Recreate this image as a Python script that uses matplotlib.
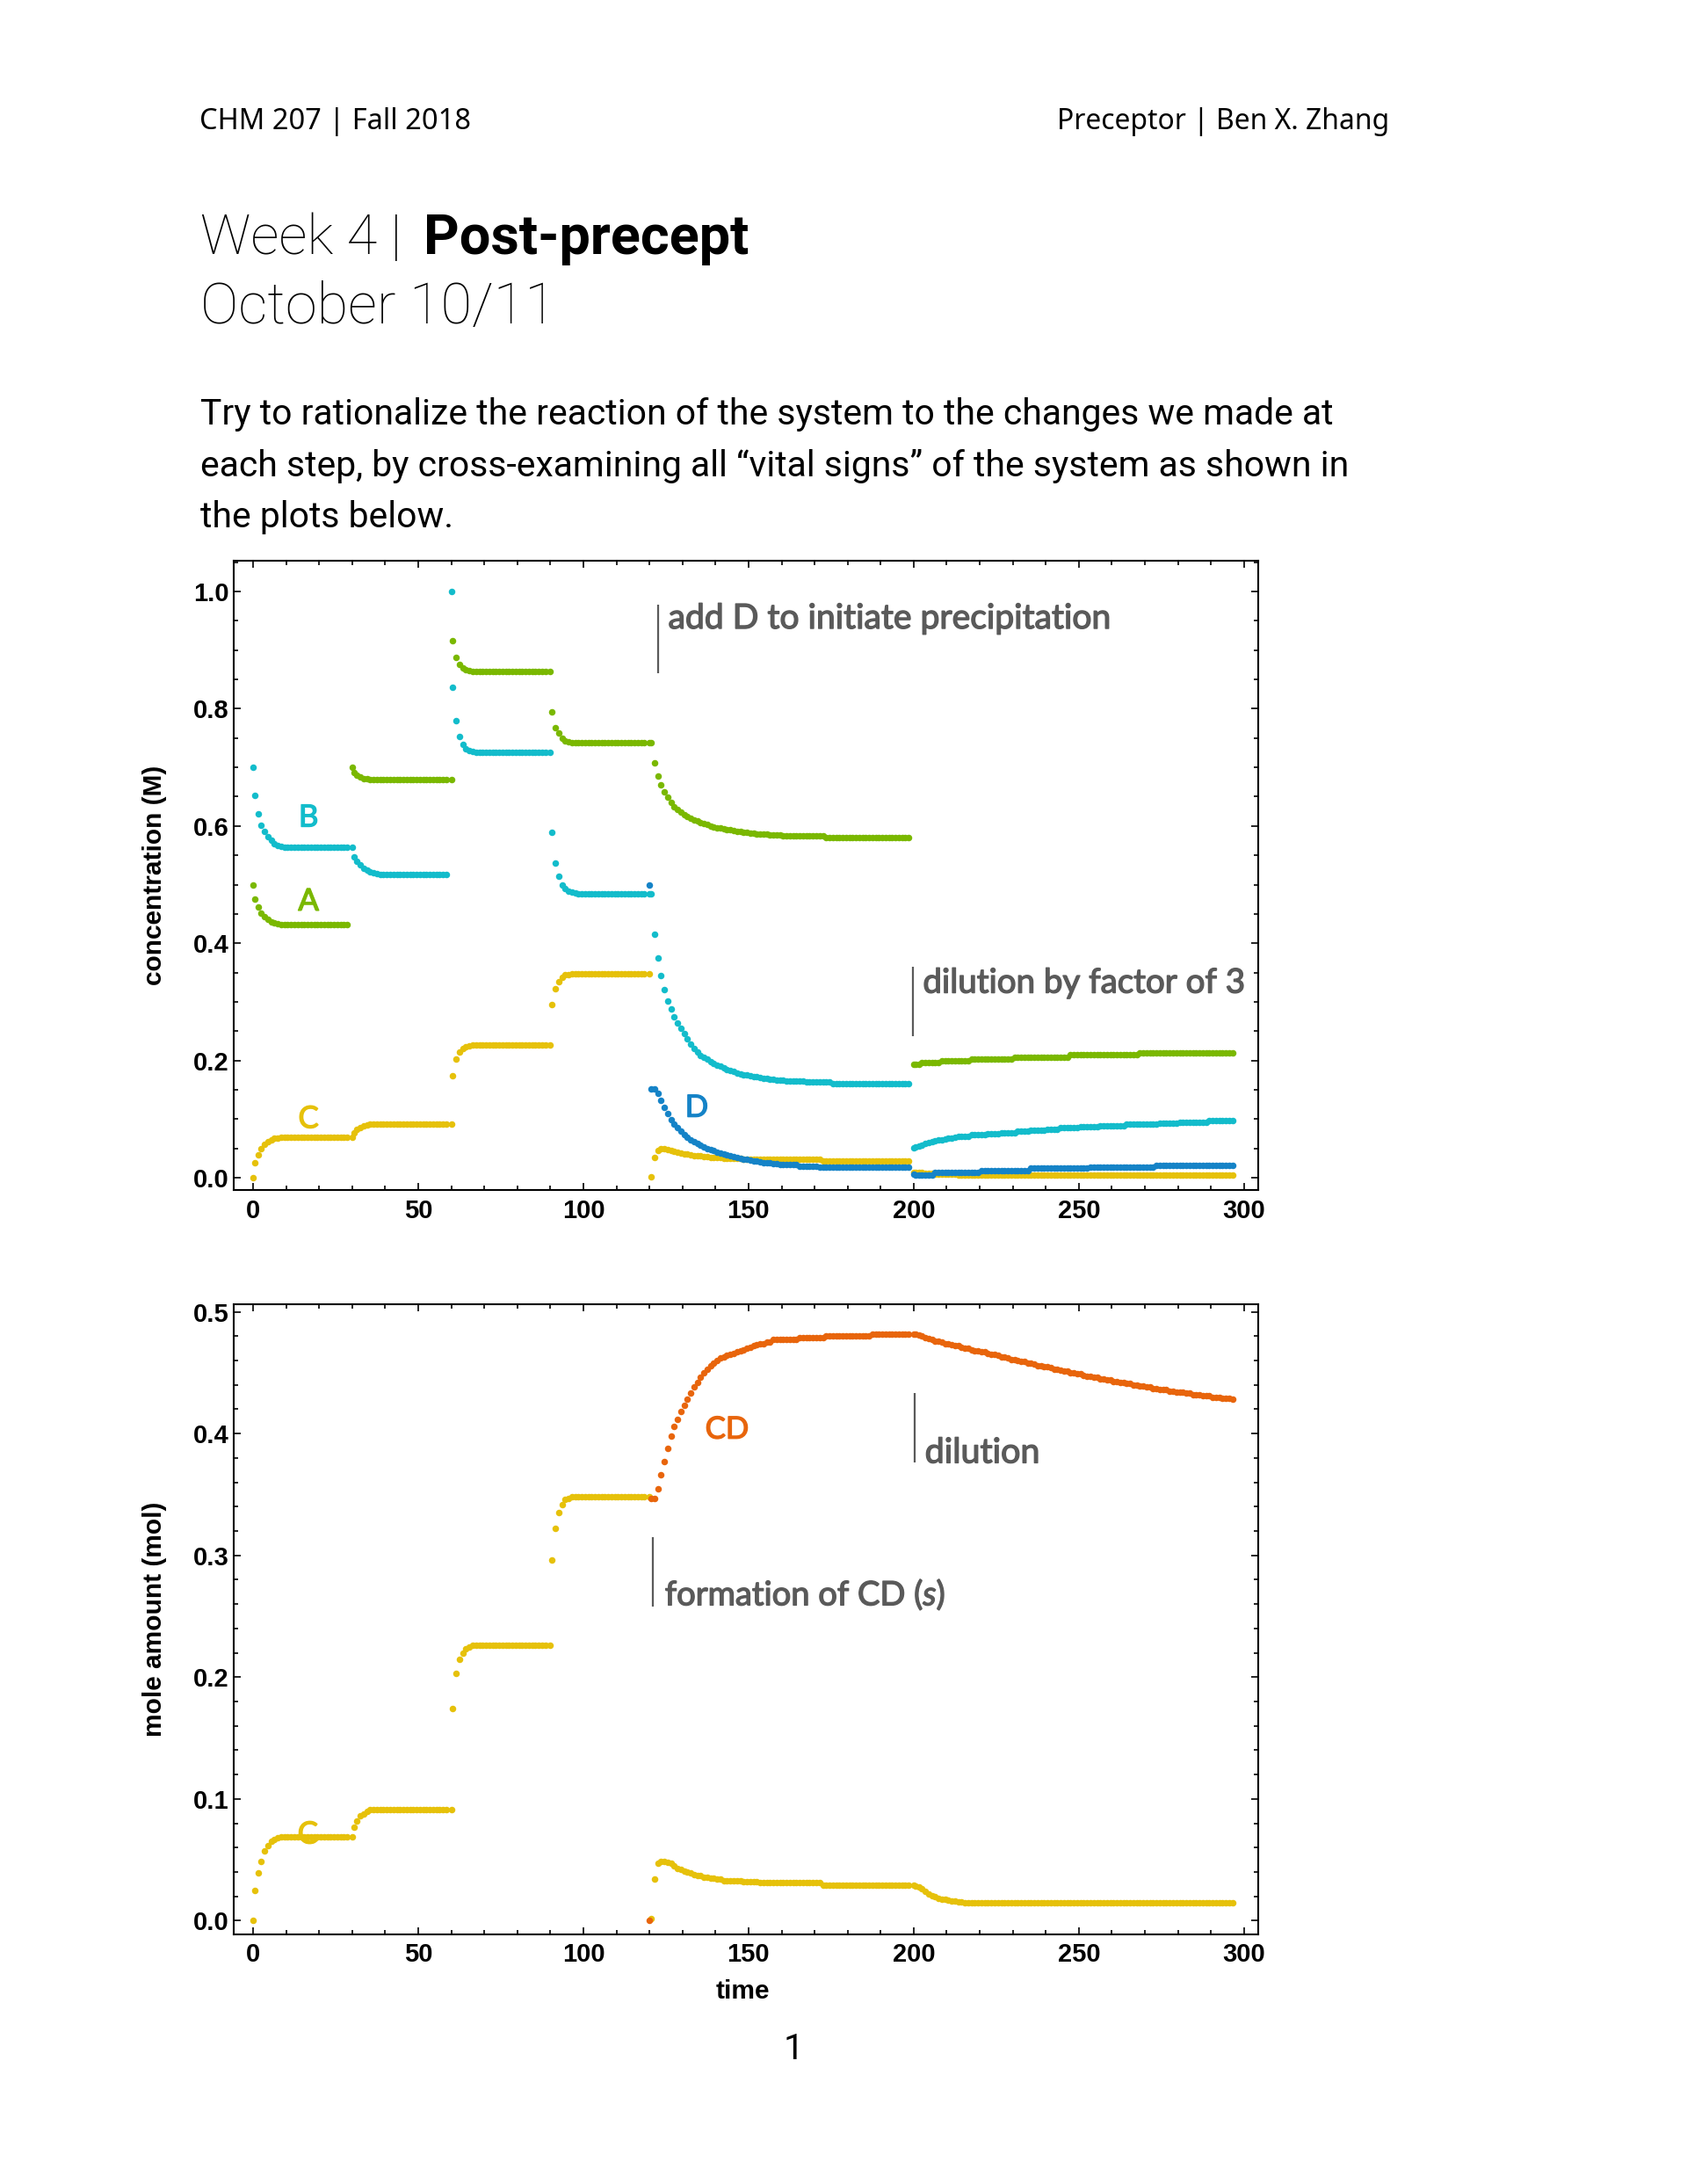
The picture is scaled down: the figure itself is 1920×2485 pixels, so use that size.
import numpy as np
import matplotlib.pyplot as plt
import matplotlib.patheffects as pe
from matplotlib.ticker import MultipleLocator, FormatStrFormatter

# colours of the species
GREEN = '#7ab800'
CYAN = '#13bccb'
YELLOW = '#e6c10a'
BLUE = '#1583c7'
ORANGE = '#e8650c'
GRAY = '#5a5a5a'

# concentrations (M), one list per 30-unit step; first point of a step is the
# state right after the change, the rest are sampled half a unit later
A1 = [0.500, 0.475, 0.462, 0.452, 0.446, 0.441, 0.437, 0.435, 0.433] + [0.432] * 21
B1 = [0.700, 0.652, 0.620, 0.601, 0.590, 0.581, 0.575, 0.570, 0.567, 0.565] + [0.563] * 20
C1 = [0.000, 0.025, 0.039, 0.049, 0.057, 0.062, 0.065, 0.067, 0.068] + [0.069] * 21

A2 = [0.700, 0.691, 0.686, 0.683, 0.681, 0.680] + [0.679] * 24
B2 = [0.563, 0.547, 0.540, 0.533, 0.528, 0.524, 0.522, 0.520, 0.518] + [0.517] * 21
C2 = [0.069, 0.077, 0.082, 0.086, 0.088, 0.090] + [0.091] * 24

A3 = [0.679, 0.916, 0.887, 0.875, 0.870, 0.867, 0.865] + [0.864] * 23
B3 = [1.000, 0.837, 0.779, 0.752, 0.739, 0.732, 0.729, 0.727, 0.726] + [0.725] * 21
C3 = [0.091, 0.174, 0.203, 0.215, 0.220, 0.223, 0.225] + [0.226] * 23

A4 = [0.864, 0.794, 0.768, 0.758, 0.750, 0.745, 0.743] + [0.742] * 23
B4 = [0.725, 0.589, 0.536, 0.514, 0.500, 0.493, 0.489, 0.487, 0.486] + [0.485] * 21
C4 = [0.226, 0.296, 0.322, 0.335, 0.342, 0.346, 0.347] + [0.348] * 23

# t = 120: D added
A5 = ([0.742, 0.742,
       0.708, 0.685, 0.670, 0.658, 0.649, 0.640, 0.633, 0.628, 0.623, 0.619,
       0.616, 0.613, 0.610, 0.608, 0.606, 0.604, 0.602, 0.600, 0.598, 0.597,
       0.596, 0.595, 0.594, 0.593, 0.592, 0.591, 0.590, 0.589, 0.589, 0.588, 0.587]
      + [0.586] * 4 + [0.585] * 4 + [0.583] * 13 + [0.580] * 26)
B5 = ([0.485, 0.485,
       0.415, 0.375, 0.345, 0.321, 0.302, 0.288, 0.275, 0.264, 0.255, 0.246,
       0.237, 0.228, 0.220, 0.214, 0.209, 0.205, 0.202, 0.198, 0.195, 0.192,
       0.190, 0.187, 0.185, 0.183, 0.181, 0.179, 0.177, 0.176, 0.175, 0.174,
       0.173, 0.172, 0.171, 0.170, 0.169, 0.168, 0.168, 0.167, 0.167, 0.166]
      + [0.165] * 6 + [0.163] * 8 + [0.160] * 24)
C5 = ([0.348, 0.002,
       0.034, 0.047, 0.049, 0.049, 0.048, 0.047, 0.045, 0.043, 0.042, 0.041,
       0.040, 0.039, 0.038, 0.037, 0.037, 0.036, 0.036, 0.035, 0.035, 0.034, 0.034]
      + [0.033] * 6 + [0.032] * 5 + [0.031] * 19 + [0.029] * 27)
D5 = ([0.500,
       0.152, 0.151, 0.144, 0.132, 0.120, 0.109, 0.099, 0.091, 0.085, 0.079,
       0.074, 0.069, 0.065, 0.061, 0.058, 0.055, 0.052, 0.050, 0.048, 0.046,
       0.044, 0.042, 0.040, 0.039, 0.037, 0.036, 0.035, 0.033, 0.032, 0.031,
       0.030, 0.029, 0.028, 0.027, 0.026, 0.025, 0.025, 0.024, 0.024, 0.023]
      + [0.022] * 5 + [0.020] * 6 + [0.0185] * 28)

# t = 200: dilution by 3
A6 = [0.193] * 3 + [0.196] * 6 + [0.200] * 9 + [0.203] * 13 + [0.206] * 17 + [0.210] * 21 + [0.213] * 29
B6 = ([0.051, 0.052, 0.054, 0.056, 0.058, 0.060, 0.062, 0.063, 0.064, 0.065,
       0.066, 0.067, 0.068, 0.069, 0.070]
      + [0.071] * 3 + [0.073] * 5 + [0.075] * 4 + [0.077] * 5 + [0.079] * 4
      + [0.081] * 5 + [0.083] * 4 + [0.085] * 6 + [0.087] * 6 + [0.089] * 8
      + [0.091] * 10 + [0.093] * 6 + [0.095] * 9 + [0.097] * 6 + [0.098] * 2)
C6 = ([0.0097, 0.0095, 0.0092, 0.0087, 0.0080, 0.0074, 0.0068, 0.0065,
       0.0062, 0.0060, 0.0058, 0.0056, 0.0054, 0.0053, 0.0052, 0.0051] + [0.0049] * 82)
D6 = [0.006] + [0.005] * 6 + [0.0085] * 14 + [0.0125] * 15 + [0.016] * 18 + [0.0185] * 20 + [0.0215] * 24

# mole amounts (mol): C equals the concentration while the volume is 1
C6_mol = ([0.029, 0.0285, 0.0276, 0.026, 0.024, 0.022, 0.0204, 0.0195,
           0.0186, 0.018, 0.0174, 0.0168, 0.0162, 0.016, 0.0156, 0.0153] + [0.0147] * 82)
CD5 = ([0.000,
        0.347, 0.347, 0.355, 0.366, 0.377, 0.388, 0.398, 0.406, 0.412, 0.418,
        0.423, 0.428, 0.433, 0.438, 0.442, 0.446, 0.450, 0.453, 0.456, 0.458,
        0.460, 0.462, 0.463, 0.464, 0.465, 0.466, 0.467, 0.468, 0.469, 0.470,
        0.471, 0.472, 0.473, 0.474, 0.474, 0.475, 0.475]
       + [0.477] * 8 + [0.479] * 8 + [0.480] * 14 + [0.482] * 12)
CD6 = [0.482, 0.482, 0.481, 0.480, 0.479, 0.478, 0.477, 0.476, 0.476, 0.475,
       0.474, 0.474, 0.473, 0.472, 0.472, 0.471, 0.470, 0.470, 0.469, 0.468,
       0.468, 0.467, 0.467, 0.466, 0.465, 0.465, 0.464, 0.463, 0.463, 0.462,
       0.461, 0.461, 0.460, 0.459, 0.459, 0.458, 0.458, 0.457, 0.456, 0.456,
       0.455, 0.455, 0.454, 0.453, 0.453, 0.452, 0.451, 0.451, 0.450, 0.450,
       0.449, 0.449, 0.448, 0.447, 0.447, 0.446, 0.446, 0.445, 0.445, 0.444,
       0.444, 0.443, 0.443, 0.442, 0.442, 0.441, 0.441, 0.440, 0.440, 0.439,
       0.439, 0.438, 0.438, 0.437, 0.437, 0.436, 0.436, 0.436, 0.435, 0.435,
       0.434, 0.434, 0.434, 0.433, 0.433, 0.432, 0.432, 0.432, 0.431, 0.431,
       0.431, 0.430, 0.430, 0.430, 0.429, 0.429, 0.429, 0.428]

STEP_STARTS = [0, 30, 60, 90, 120, 200]


def seg_times(t0, n):
    return np.r_[t0, t0 + 0.5 + np.arange(n - 1)]


def series(starts, parts):
    t = np.concatenate([seg_times(t0, len(p)) for t0, p in zip(starts, parts)])
    v = np.concatenate([np.asarray(p, float) for p in parts])
    return t, v


tA, vA = series(STEP_STARTS, [A1, A2, A3, A4, A5, A6])
tB, vB = series(STEP_STARTS, [B1, B2, B3, B4, B5, B6])
tC, vC = series(STEP_STARTS, [C1, C2, C3, C4, C5, C6])
tD, vD = series(STEP_STARTS[4:], [D5, D6])
tCm, vCm = series(STEP_STARTS, [C1, C2, C3, C4, C5, C6_mol])
tCD, vCD = series(STEP_STARTS[4:], [CD5, CD6])

plt.rcParams['font.family'] = ['Roboto', 'DejaVu Sans']

W, H = 1920, 2485
fig = plt.figure(figsize=(W / 100, H / 100), dpi=100)
renderer = fig.canvas.get_renderer()


def px(x, y):
    return x / W, 1 - y / H


def fit_width(txt, width):
    w = txt.get_window_extent(renderer).width
    txt.set_fontsize(txt.get_fontsize() * width / w)
    return txt


# page text
narrow = dict(family=['Noto Sans Condensed', 'Noto Sans', 'DejaVu Sans'], stretch='condensed')
fit_width(fig.text(*px(227, 147), 'CHM 207 | Fall 2018', fontsize=25,
                   ha='left', va='baseline', **narrow), 309)
fit_width(fig.text(*px(1581, 147), 'Preceptor | Ben X. Zhang', fontsize=25,
                   ha='right', va='baseline', **narrow), 378)
fit_width(fig.text(*px(228, 289), 'Week 4 |', fontsize=44, weight='light',
                   ha='left', va='baseline'), 229)
fit_width(fig.text(*px(482, 289), 'Post-precept', fontsize=44, weight='bold',
                   ha='left', va='baseline'), 370)
fit_width(fig.text(*px(228, 367.5), 'October 10/11', fontsize=44, weight='light',
                   ha='left', va='baseline'), 405)

para = ['Try to rationalize the reaction of the system to the changes we made at',
        'each step, by cross-examining all \u201cvital signs\u201d of the system as shown in',
        'the plots below.']
line1 = fit_width(fig.text(*px(228, 483), para[0], fontsize=28, ha='left', va='baseline'), 1286)
for y, s in zip([542, 600], para[1:]):
    fig.text(*px(228, y), s, fontsize=line1.get_fontsize(), ha='left', va='baseline')
fig.text(*px(903, 2343), '1', fontsize=line1.get_fontsize(), ha='center', va='baseline')

ax1 = fig.add_axes([266 / W, 1 - 1354 / H, 1166 / W, 716 / H])
ax2 = fig.add_axes([266 / W, 1 - 2200.7 / H, 1166 / W, 717 / H])

dot = dict(ls='none', marker='o', ms=5.4, mew=0)
ax1.plot(tA, vA, color=GREEN, **dot)
ax1.plot(tB, vB, color=CYAN, **dot)
ax1.plot(tC, vC, color=YELLOW, **dot)
ax1.plot(tD, vD, color=BLUE, **dot)

ax2.plot(tCm, vCm, color=YELLOW, zorder=3, **dot)
ax2.plot(tCD, vCD, color=ORANGE, zorder=3, **dot)

ax1.set_xlim(-5.85, 304.3)
ax1.set_ylim(-0.021, 1.0525)
ax2.set_xlim(-5.85, 304.3)
ax2.set_ylim(-0.011, 0.5064)

for ax, ymaj, ymin in [(ax1, 0.2, 0.05), (ax2, 0.1, 0.02)]:
    ax.xaxis.set_major_locator(MultipleLocator(50))
    ax.xaxis.set_minor_locator(MultipleLocator(10))
    ax.yaxis.set_major_locator(MultipleLocator(ymaj))
    ax.yaxis.set_minor_locator(MultipleLocator(ymin))
    ax.yaxis.set_major_formatter(FormatStrFormatter('%.1f'))
    ax.tick_params(which='both', direction='in', top=True, right=True, width=1.2,
                   labelsize=21)
    ax.tick_params(which='major', length=6)
    ax.tick_params(which='minor', length=3.3)
    ax.tick_params(axis='x', pad=7)
    ax.tick_params(axis='y', pad=4)
    for lab in ax.get_xticklabels() + ax.get_yticklabels():
        lab.set_fontfamily('Liberation Sans')
        lab.set_fontweight('bold')
    for sp in ax.spines.values():
        sp.set_linewidth(1.5)

lab_font = dict(family='Liberation Sans', weight='bold', fontsize=21.5)
ax1.set_ylabel('concentration (M)', **lab_font)
ax1.yaxis.set_label_coords(-0.065, 0.5)
ax2.set_ylabel('mole amount (mol)', **lab_font)
ax2.yaxis.set_label_coords(-0.065, 0.5)
ax2.set_xlabel('time', **lab_font)
ax2.xaxis.set_label_coords(0.4966, -0.0715)


def heavier(color):
    # regular face with a thin outline, close to the semibold of the original
    return [pe.withStroke(linewidth=1.0, foreground=color)]


# species labels
semi = ['Lato', 'Roboto', 'DejaVu Sans']
tag = dict(family=semi, fontsize=25, ha='center', va='baseline', zorder=1)
for ax, x, y, s, c in [(ax1, 16.8, 0.599, 'B', CYAN), (ax1, 16.8, 0.456, 'A', GREEN),
                       (ax1, 16.8, 0.085, 'C', YELLOW), (ax1, 134.3, 0.104, 'D', BLUE),
                       (ax2, 143.5, 0.396, 'CD', ORANGE), (ax2, 16.6, 0.0635, 'C', YELLOW)]:
    ax.text(x, y, s, color=c, path_effects=heavier(c), **tag)

# event notes
plt.rcParams['mathtext.fontset'] = 'custom'
plt.rcParams['mathtext.it'] = 'Lato:italic'
note = dict(family=semi, color=GRAY, fontsize=24, ha='left', va='baseline',
            path_effects=heavier(GRAY))
ax1.vlines(122.7, 0.861, 0.978, color=GRAY, lw=1.6)
fit_width(ax1.text(125.7, 0.937, 'add D to initiate precipitation', **note), 504)
ax1.vlines(199.8, 0.241, 0.360, color=GRAY, lw=1.6)
fit_width(ax1.text(202.8, 0.3155, 'dilution by factor of 3', **note), 367)
ax2.vlines(121.1, 0.258, 0.315, color=GRAY, lw=1.6)
fit_width(ax2.text(124.7, 0.259, r'formation of CD ($\mathit{s}$)', **note), 320)
ax2.vlines(200.2, 0.376, 0.433, color=GRAY, lw=1.6)
fit_width(ax2.text(203.4, 0.376, 'dilution', **note), 131)

fig.savefig('out.png', dpi=100)
